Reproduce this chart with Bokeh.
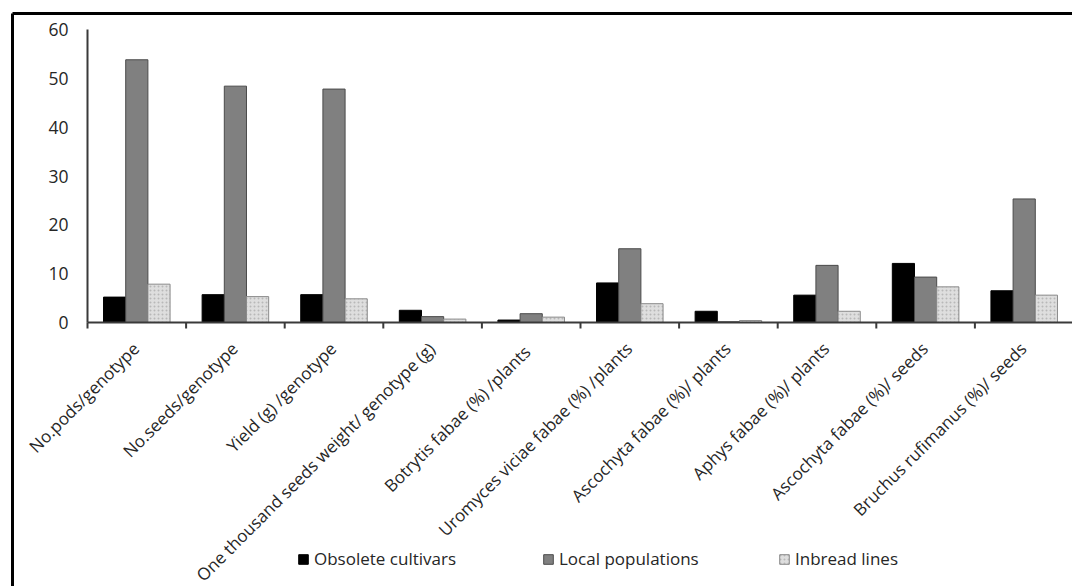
import numpy as np
from bokeh.plotting import figure
from bokeh.models import ColumnDataSource, Range1d, Legend, LegendItem
from bokeh.core.properties import value
from bokeh.embed import file_html
from bokeh.resources import INLINE

categories = ["No.pods/genotype", "No.seeds/genotype", "Yield (g) /genotype",
              "One thousand seeds weight/ genotype (g)", "Botrytis  fabae (%) /plants",
              "Uromyces viciae fabae (%) /plants", "Ascochyta fabae (%)/ plants",
              "Aphys fabae (%)/ plants", "Ascochyta fabae (%)/ seeds",
              "Bruchus rufimanus (%)/ seeds"]
obsolete = [5.2, 5.7, 5.7, 2.5, 0.5, 8.1, 2.3, 5.6, 12.1, 6.5]
local = [53.8, 48.4, 47.8, 1.2, 1.8, 15.1, 0.15, 11.7, 9.3, 25.3]
inbred = [7.85, 5.3, 4.85, 0.7, 1.1, 3.85, 0.4, 2.3, 7.3, 5.6]
series_names = ["Obsolete cultivars", "Local populations", "Inbread lines"]
y_ticks = [0, 10, 20, 30, 40, 50, 60]

FONT = "Open Sans"
TXT = "#262626"
AX = "#3a3a3a"

W, H = 1072, 586
# layout (pixels on the canvas)
X0_PX, CAT_PX = 87.0, 98.6      # y axis position, category width
Y0_PX, Y60_PX = 322.0, 29.0     # baseline and top of value axis
PX_PER_UNIT = (Y0_PX - Y60_PX) / 60.0


def px_x(px):
    return (px - X0_PX) / CAT_PX


def px_y(py):
    return (Y0_PX - py) / PX_PER_UNIT


n = len(categories)
idx = np.arange(n)
centers = idx + 0.5
bw = 0.225

p = figure(width=W, height=H, output_backend="svg", toolbar_location=None,
           x_range=Range1d(px_x(0), px_x(W)), y_range=Range1d(px_y(H), px_y(0)),
           min_border=0, min_border_left=0, min_border_right=0,
           min_border_top=0, min_border_bottom=0,
           x_axis_location=None, y_axis_location=None)
p.outline_line_color = None
p.xgrid.visible = False
p.ygrid.visible = False
p.background_fill_color = "white"
p.border_fill_color = "white"

# outer frame (top and left edges)
p.line(x=[px_x(12), px_x(W + 5)], y=[px_y(13), px_y(13)], line_color="#000000", line_width=3)
p.line(x=[px_x(12), px_x(12)], y=[px_y(13), px_y(H + 5)], line_color="#000000", line_width=3)

src = ColumnDataSource(dict(x0=centers - bw, x1=centers, x2=centers + bw,
                            obs=obsolete, loc=local, inb=inbred))
r1 = p.vbar(x="x0", top="obs", bottom=0, width=bw, source=src, fill_color="#000000",
            line_color="#000000", line_width=1)
r2 = p.vbar(x="x1", top="loc", bottom=0, width=bw, source=src, fill_color="#808080",
            line_color="#4a4a4a", line_width=1)
r3 = p.vbar(x="x2", top="inb", bottom=0, width=bw, source=src, fill_color="#dedede",
            line_color="#8a8a8a", line_width=1, hatch_pattern="dot",
            hatch_color="#b8b8b8", hatch_scale=4, hatch_weight=1)

# axes lines
p.line(x=[0, px_x(W + 5)], y=[0, 0], line_color=AX, line_width=2)
p.line(x=[0, 0], y=[0, 60], line_color=AX, line_width=2)
bounds = list(idx) + [n]
p.segment(x0=bounds, x1=bounds, y0=[0] * len(bounds), y1=[px_y(Y0_PX + 6)] * len(bounds),
          line_color=AX, line_width=2)

# y tick labels
p.text(x=[px_x(68)] * len(y_ticks), y=y_ticks, text=[str(t) for t in y_ticks],
       text_align="right", text_baseline="middle", text_font=value(FONT),
       text_font_size="17.5px", text_color=TXT)

# x category labels (rotated 45 deg)
lab_src = ColumnDataSource(dict(x=centers - 1.0 / CAT_PX,
                                y=[px_y(345)] * n, t=categories))
p.text(x="x", y="y", text="t", source=lab_src, angle=np.pi / 4,
       text_align="right", text_baseline="middle", text_font=value(FONT),
       text_font_size="17px", text_color=TXT)

# legends, one per item for exact placement
for r, name, xloc in zip([r1, r2, r3], series_names, [297, 542, 778]):
    lg = Legend(items=[LegendItem(label=name, renderers=[r])], location=(xloc, 16),
                orientation="horizontal", border_line_color=None,
                background_fill_alpha=0, padding=0, margin=0,
                glyph_width=12, glyph_height=12, label_standoff=5,
                label_text_font=FONT, label_text_font_size="17px",
                label_text_color=TXT, label_height=12)
    p.add_layout(lg, "center")

open("out.html", "w").write(file_html(p, INLINE))
